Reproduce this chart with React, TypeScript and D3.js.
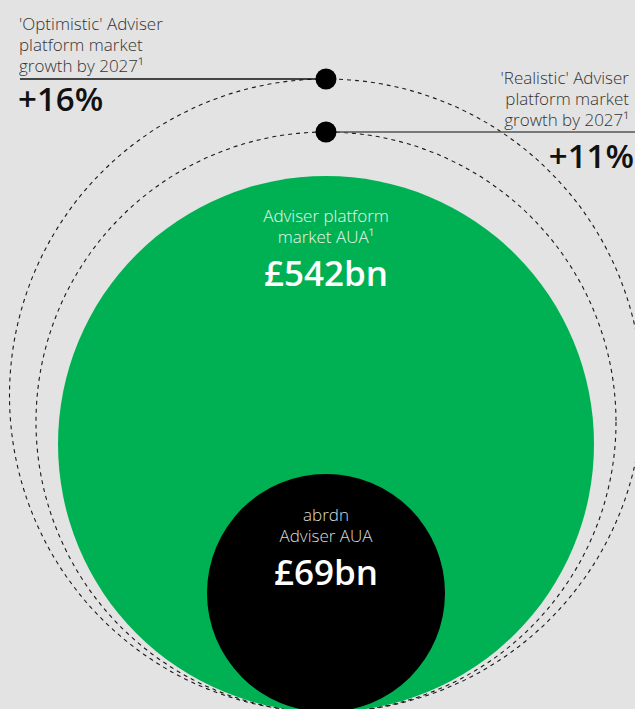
import React from "react";
import * as d3 from "d3";

// ---- data ----
const marketAUA = 542; // £bn
const abrdnAUA = 69; // £bn
const scenarioNames = ["Realistic", "Optimistic"];
const scenarioGrowth = [11, 16]; // % by 2027
const marketLabel = ["Adviser platform", "market AUA¹"];
const abrdnLabel = ["abrdn", "Adviser AUA"];
const optimisticLabel = ["'Optimistic' Adviser", "platform market", "growth by 2027¹"];
const realisticLabel = ["'Realistic' Adviser", "platform market", "growth by 2027¹"];

const W = 635;
const H = 709;
const BG = "#e3e3e3";
const GREEN = "#00b153";
const FONT = "'Open Sans', 'Noto Sans', sans-serif";

export default function App() {
  const projected = scenarioGrowth.map((g) => marketAUA * (1 + g / 100));
  const r = d3
    .scaleLinear()
    .domain([abrdnAUA, marketAUA, projected[0], projected[1]])
    .range([119, 268, 290, 316.5]);
  const cx = 326;
  const base = 712; // all circles rest on the same bottom point
  const cy = (v: number) => base - r(v);
  const top = (v: number) => base - 2 * r(v);

  const realTop = top(projected[0]);
  const optTop = top(projected[1]);
  const mTop = top(marketAUA);
  const aTop = top(abrdnAUA);

  const small = 17;

  return (
    <svg
      width={W}
      height={H}
      style={{ position: "fixed", left: 0, top: 0, display: "block" }}
      fontFamily={FONT}
    >
      <rect width={W} height={H} fill={BG} />
      {/* dashed projected circles */}
      {projected.map((v, i) => (
        <circle
          key={scenarioNames[i]}
          cx={cx}
          cy={cy(v)}
          r={r(v)}
          fill="none"
          stroke="#1a1a1a"
          strokeWidth={1.1}
          strokeDasharray="4 4"
        />
      ))}
      {/* market circle */}
      <circle cx={cx} cy={cy(marketAUA)} r={r(marketAUA)} fill={GREEN} />
      {/* abrdn circle */}
      <circle cx={cx} cy={cy(abrdnAUA)} r={r(abrdnAUA)} fill="#000" />

      {/* leader lines */}
      <line x1={20} x2={cx} y1={optTop} y2={optTop} stroke="#111" strokeWidth={1.3} />
      <line x1={cx} x2={W} y1={realTop} y2={realTop} stroke="#555" strokeWidth={1.3} />
      <circle cx={cx} cy={optTop} r={10.5} fill="#000" />
      <circle cx={cx} cy={realTop} r={10.5} fill="#000" />

      {/* optimistic label */}
      <g fill="#333" fontSize={small} fontWeight={300}>
        {optimisticLabel.map((t, i) => (
          <text key={t} x={19} y={30 + i * 21}>
            {t}
          </text>
        ))}
      </g>
      <text x={18} y={111} fontSize={33} fontWeight={600} fill="#111">
        +{scenarioGrowth[1]}%
      </text>

      {/* realistic label */}
      <g fill="#333" fontSize={small} fontWeight={300} textAnchor="end">
        {realisticLabel.map((t, i) => (
          <text key={t} x={629} y={84 + i * 21}>
            {t}
          </text>
        ))}
      </g>
      <text x={634} y={168} fontSize={33} fontWeight={600} fill="#111" textAnchor="end">
        +{scenarioGrowth[0]}%
      </text>

      {/* market label */}
      <g fill="#e9f7ee" fontSize={small} fontWeight={300} textAnchor="middle">
        {marketLabel.map((t, i) => (
          <text key={t} x={cx} y={mTop + 46 + i * 21}>
            {t}
          </text>
        ))}
      </g>
      <text x={cx} y={mTop + 110} fontSize={35} fontWeight={600} fill="#fff" textAnchor="middle">
        £{marketAUA}bn
      </text>

      {/* abrdn label */}
      <g fill="#dddddd" fontSize={small} fontWeight={300} textAnchor="middle">
        {abrdnLabel.map((t, i) => (
          <text key={t} x={cx} y={aTop + 47 + i * 21}>
            {t}
          </text>
        ))}
      </g>
      <text x={cx} y={aTop + 111} fontSize={35} fontWeight={600} fill="#fff" textAnchor="middle">
        £{abrdnAUA}bn
      </text>
    </svg>
  );
}
